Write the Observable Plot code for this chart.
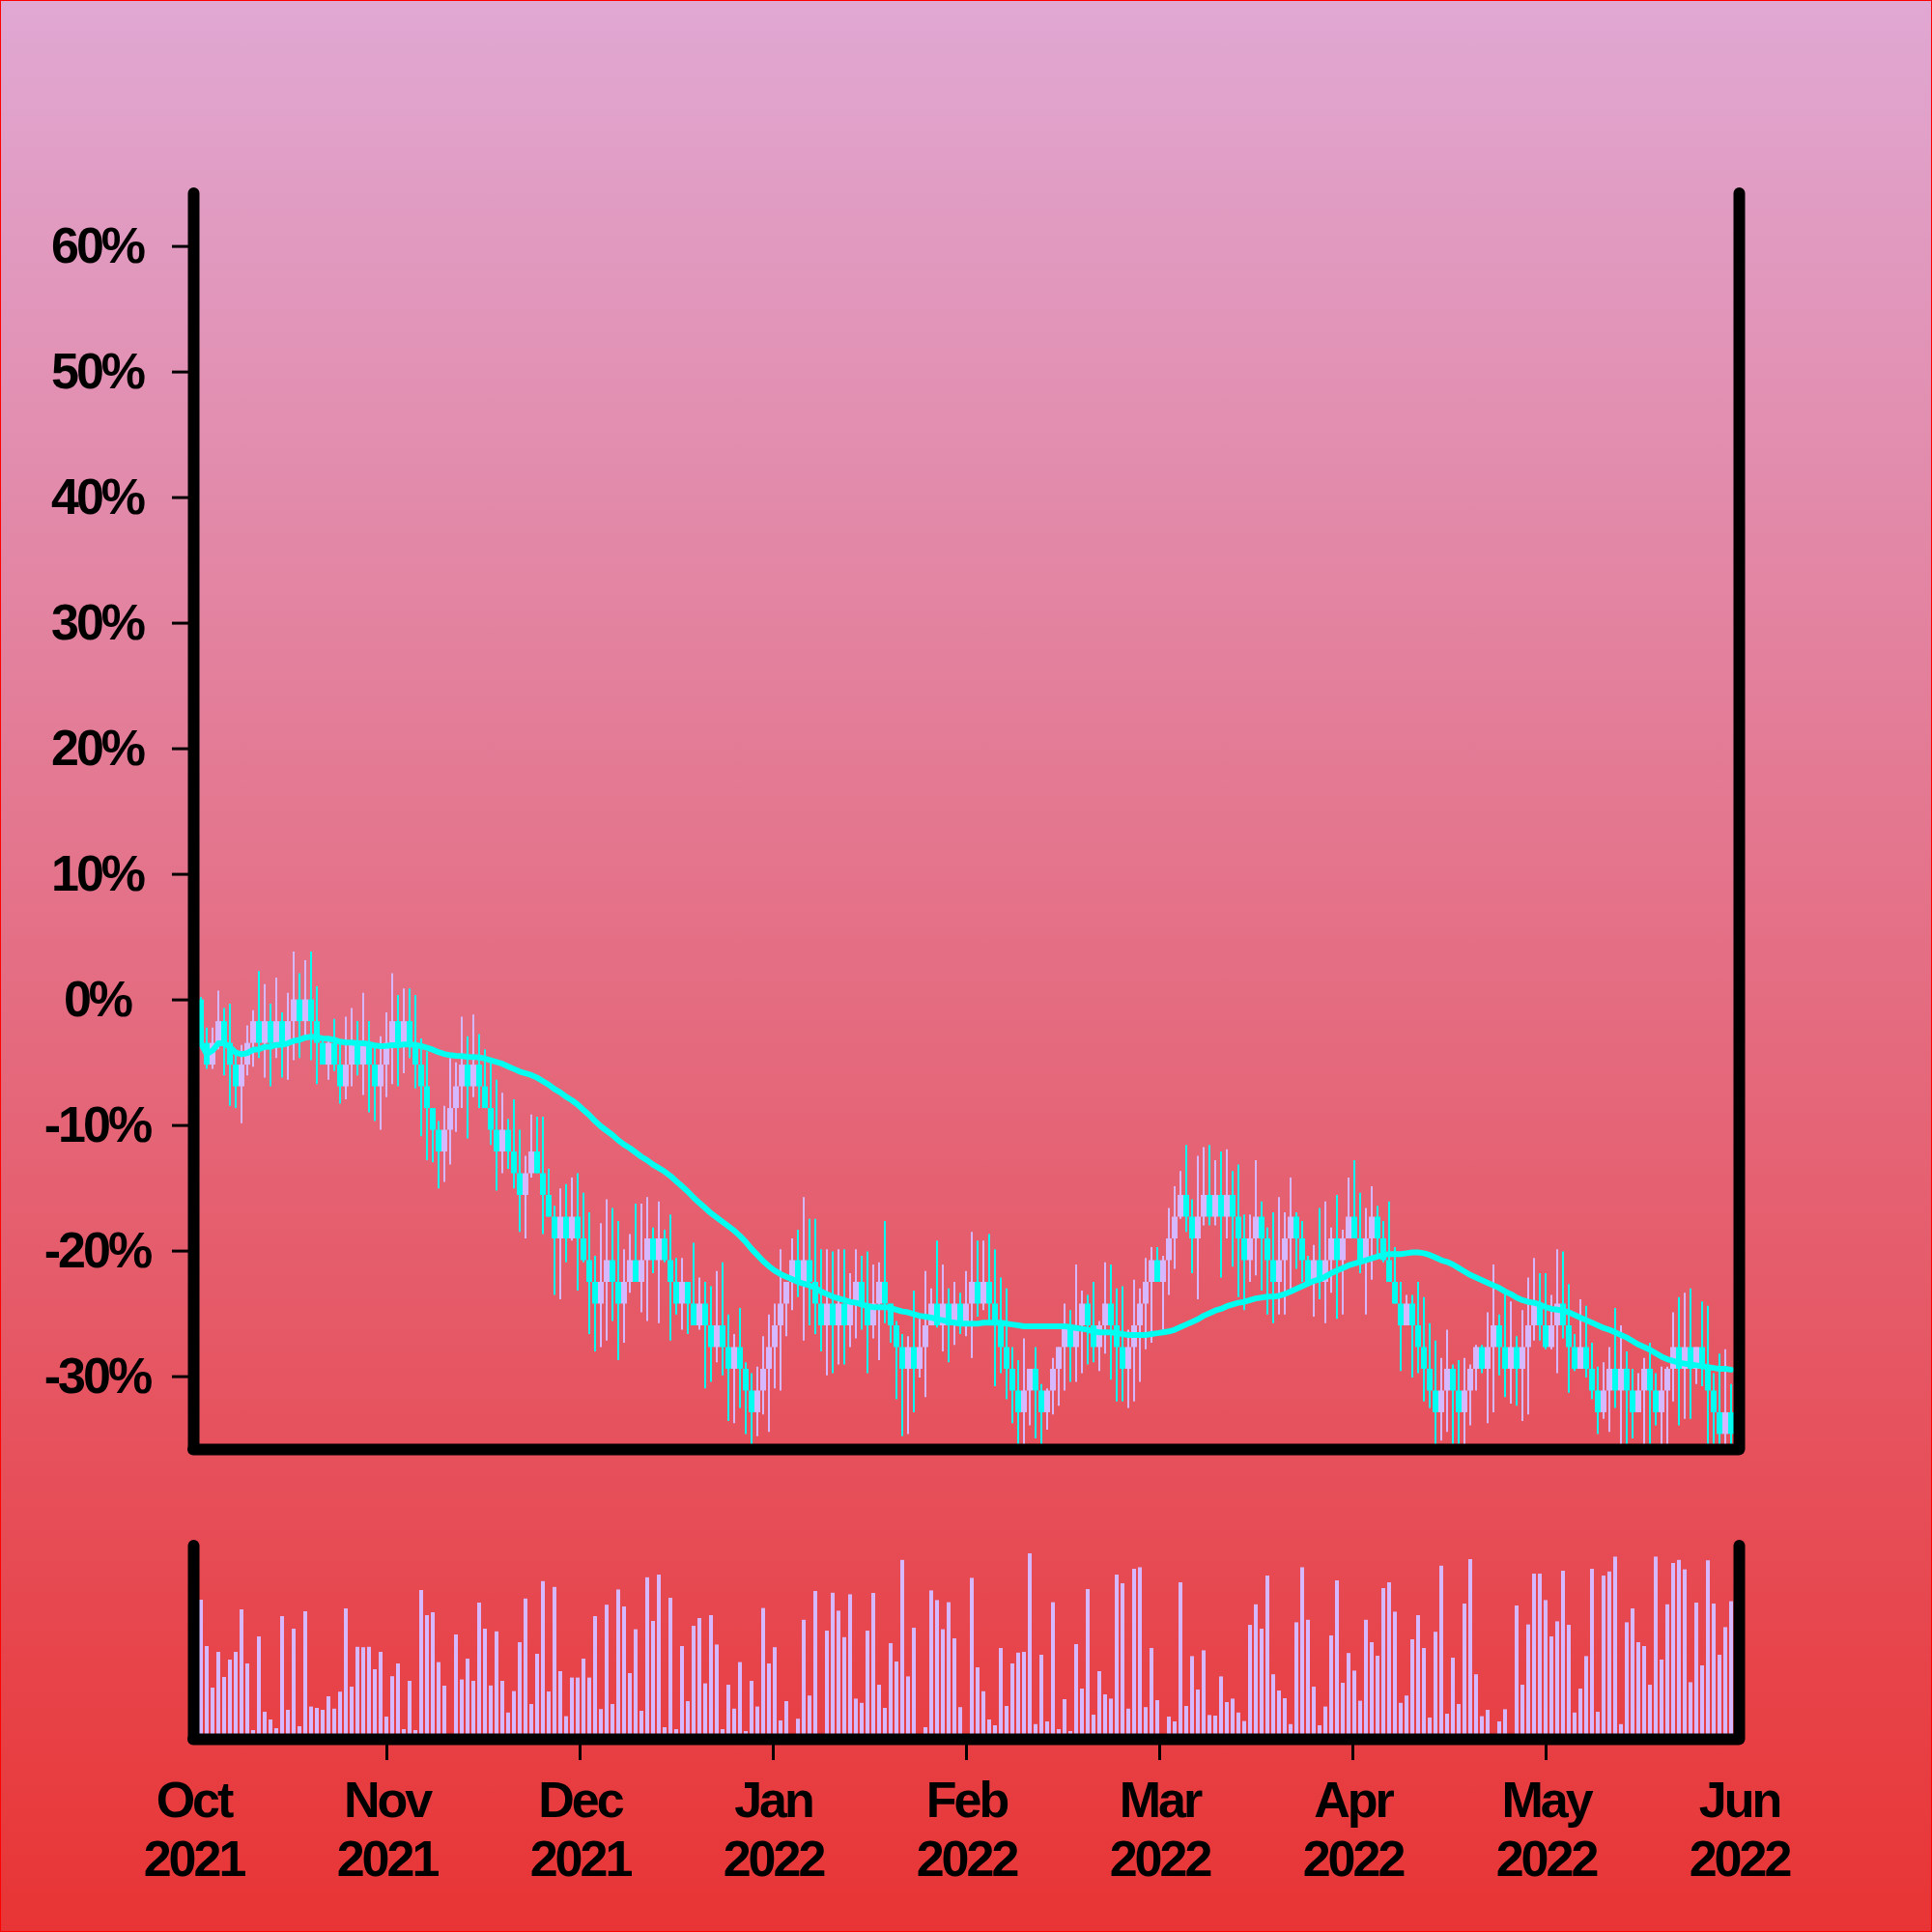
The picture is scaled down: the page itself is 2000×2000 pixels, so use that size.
<!DOCTYPE html>
<html><head><meta charset="utf-8">
<script src="https://cdn.jsdelivr.net/npm/d3@7"></script>
<script src="https://cdn.jsdelivr.net/npm/@observablehq/plot@0.6"></script>
<style>
html,body{margin:0;padding:0;}
#chart{width:2000px;height:2000px;position:relative;overflow:hidden;
  background:linear-gradient(to bottom,#e0a8d3,#e83434);box-shadow:inset 0 0 0 1px #ff0000;}
#chart svg{display:block;position:absolute;left:0;overflow:visible;background:transparent;}
</style></head><body><div id="chart"></div>
<script>
const firstOpen = 57.8;
const close = [55.8,
54.8,55.8,56.8,55.8,54.8,53.8,54.8,55.8,56.8,55.8,
56.8,55.8,56.8,55.8,56.8,57.8,56.8,57.8,56.8,55.8,
54.8,55.8,54.8,53.8,54.8,55.8,54.8,55.8,54.8,53.8,
54.8,55.8,56.8,55.8,56.8,55.8,54.8,53.8,52.8,51.8,
50.8,51.8,52.8,53.8,54.8,53.8,54.8,53.8,52.8,51.8,
50.8,51.8,50.8,49.8,48.8,49.8,50.8,49.8,48.8,47.8,
46.8,47.8,46.8,47.8,46.8,45.8,44.8,43.8,44.8,45.8,
44.8,43.8,44.8,45.8,44.8,45.8,46.8,45.8,46.8,45.8,
44.8,43.8,44.8,43.8,42.8,43.8,42.8,41.8,42.8,41.8,
40.8,41.8,40.8,39.8,38.8,39.8,40.8,41.8,42.8,43.8,
44.8,45.8,44.8,45.8,44.8,43.8,42.8,43.8,42.8,43.8,
42.8,43.8,44.8,43.8,42.8,43.8,44.8,43.8,42.8,41.8,
40.8,41.8,40.8,41.8,42.8,43.8,42.8,43.8,42.8,43.8,
42.8,43.8,44.8,43.8,44.8,43.8,42.8,41.8,40.8,39.8,
38.8,39.8,40.8,39.8,38.8,39.8,40.8,41.8,42.8,41.8,
42.8,43.8,42.8,41.8,42.8,43.8,42.8,41.8,40.8,41.8,
42.8,43.8,44.8,45.8,44.8,45.8,46.8,47.8,48.8,47.8,
46.8,47.8,48.8,47.8,48.8,47.8,48.8,47.8,46.8,45.8,
46.8,47.8,46.8,45.8,44.8,45.8,46.8,47.8,46.8,45.8,
44.8,45.8,44.8,45.8,46.8,45.8,46.8,47.8,46.8,45.8,
46.8,47.8,46.8,45.8,44.8,43.8,42.8,43.8,42.8,41.8,
40.8,39.8,38.8,39.8,40.8,39.8,38.8,39.8,40.8,41.8,
40.8,41.8,42.8,41.8,40.8,41.8,40.8,41.8,42.8,43.8,
42.8,41.8,42.8,43.8,42.8,41.8,40.8,41.8,40.8,39.8,
38.8,39.8,40.8,39.8,40.8,39.8,38.8,39.8,40.8,39.8,
38.8,39.8,40.8,41.8,40.8,41.8,40.8,41.8,40.8,39.8,
38.8,37.8,38.8,37.8];
const high = [
57.9,56.5,56.5,58.2,57.4,57.6,55.5,55.7,56.6,57.3,
59.1,58.5,57.6,58.8,57.2,58.1,60.0,59.0,59.6,60.0,
58.4,56.0,55.9,56.9,55.9,57.0,57.4,56.8,58.1,56.8,
55.6,56.1,57.2,59.0,58.0,58.3,58.3,58.0,56.0,55.4,
52.6,52.2,52.9,55.1,54.9,57.0,56.1,57.1,56.2,55.5,
55.0,54.1,53.5,
52.3,53.2,51.8,50.6,52.5,52.4,52.4,50.0,48.3,49.1,
49.3,49.6,49.8,48.9,48.0,46.0,47.5,48.6,48.2,47.6,
46.3,47.0,48.4,48.4,48.7,47.3,48.5,47.2,47.9,45.9,
45.9,44.8,46.6,45.0,44.8,44.6,45.3,45.7,43.3,42.4,
43.6,41.1,40.6,40.9,42.3,43.3,43.8,46.3,44.8,46.8,
47.2,48.7,47.7,47.7,46.3,
46.3,46.2,46.3,46.3,45.2,46.3,46.0,46.2,45.6,45.7,
47.6,43.8,43.0,42.4,42.3,44.4,43.1,45.3,44.5,46.7,
45.6,44.5,44.8,44.3,45.3,47.1,46.7,46.7,47.0,46.3,
45.0,44.5,41.8,41.2,42.2,40.8,41.8,40.1,39.9,41.3,
41.6,43.8,43.5,45.6,44.4,44.2,44.8,43.0,45.7,45.6,
44.5,44.6,42.6,44.9,
44.5,45.9,46.4,46.4,46.0,48.2,49.2,49.9,51.1,48.6,
50.6,51.0,51.1,50.4,50.8,50.9,49.9,50.2,47.9,47.9,
50.4,48.5,47.3,48.0,48.7,48.0,49.6,48.0,47.6,46.0,
46.5,48.2,48.5,47.3,48.8,47.2,49.6,50.4,48.9,48.2,
49.2,48.3,47.6,48.5,46.4,44.8,44.2,44.2,44.8,44.1,
42.9,42.1,41.3,42.6,
41.0,41.2,41.3,41.0,41.9,41.9,43.4,45.6,43.3,44.4,
43.9,42.3,43.5,45.0,45.9,45.2,45.2,44.2,46.3,46.2,
44.7,42.4,44.0,43.7,42.0,40.9,41.1,41.8,43.6,42.8,
41.6,40.8,40.6,41.3,42.0,40.6,40.9,40.9,43.4,44.1,
44.3,44.5,40.8,43.9,43.7,40.6,41.5,41.7,40.1];
const low = [
55.6,54.6,54.6,55.5,54.3,52.9,52.8,52.1,54.3,54.7,
55.1,54.2,53.8,55.1,54.2,54.1,55.0,55.1,56.0,55.0,
53.9,54.8,54.1,54.5,53.0,53.2,53.8,54.3,53.4,52.6,
52.2,51.8,53.3,53.9,53.8,54.4,55.1,53.7,51.5,50.4,
50.3,49.1,49.4,50.2,51.7,52.8,51.4,53.3,52.8,52.8,
51.1,49.0,49.8,
50.0,49.1,47.1,46.8,49.6,49.8,47.0,47.9,44.2,44.0,
45.7,46.7,44.4,45.7,42.4,41.6,41.8,42.1,43.0,41.2,
42.0,44.3,44.8,43.4,43.0,45.2,42.9,45.7,42.1,43.3,
42.6,42.4,42.8,42.6,39.9,40.2,41.1,40.5,38.4,38.3,
39.0,37.8,37.0,37.7,38.7,37.9,39.9,39.8,42.3,43.5,
44.1,42.1,42.8,42.4,41.6,
40.5,40.6,41.0,41.0,41.8,42.2,42.6,40.6,42.2,41.2,
42.9,42.0,39.4,37.7,37.8,38.8,40.4,39.5,42.8,42.7,
41.6,41.1,41.9,42.4,42.3,41.3,43.2,43.5,42.9,40.0,
40.6,39.4,38.3,37.0,37.0,38.2,37.6,37.0,38.0,38.7,
39.1,39.8,40.2,40.2,40.6,41.0,41.1,40.7,41.5,40.3,
39.3,39.3,39.0,39.3,
40.2,41.7,42.0,44.8,42.6,44.2,45.4,47.7,47.1,45.2,
44.0,47.4,47.4,47.4,45.0,46.8,45.5,44.1,43.5,44.8,
45.1,44.4,43.3,42.9,43.3,43.3,44.3,45.4,44.8,44.8,
43.2,44.0,42.9,44.3,43.1,43.3,47.0,47.0,45.2,43.3,
44.9,46.0,45.7,44.8,43.8,40.7,42.8,40.4,40.6,39.3,
39.0,37.0,37.5,37.9,
37.0,37.0,37.0,38.2,39.8,40.6,38.3,38.8,40.5,39.5,
39.2,39.1,38.4,38.7,42.1,42.1,41.7,41.7,40.6,42.2,
39.7,40.7,40.9,40.4,39.4,37.8,38.5,37.9,39.0,37.0,
37.0,37.6,38.8,37.0,37.0,38.2,37.0,37.0,39.3,38.2,
38.5,38.5,40.1,40.0,37.0,37.0,37.0,37.0,37.0];
const volume = [
72,48,26.5,45,32,41,45,67,39,4.5,
53,14,10,5.5,63.5,15,57,6.5,66,16.7,
16,15,22,15.6,24.4,67.5,27,47.6,47.4,47.6,
36,45,11.5,32.4,39,5,30,4.5,77,64,
65.5,39.7,27.5,1,54,30.7,41.5,30,70.5,57,
27.6,55.6,30,
13.6,24.7,50,72.6,18,44,81.6,24.5,78.6,35,
11.7,31.7,31.7,41.5,31.7,63.5,15.4,69.4,18,77.3,
68.5,34,56.7,14.5,83.6,61,85,6,73,5,
48,19.5,58.5,62.5,28.7,64,48.8,5,28,15.6,
39.7,4,30,16.7,67.7,39,47.4,9.5,19.5,2,
10.4,61.6,22.4,76.5,2,
56,75.6,66.3,52.6,74.8,20.8,18.6,56,75.5,28,
16,49.5,40,92.6,32.3,57.5,0.5,6,76.8,71.8,
56.7,70.7,52,16.4,0.5,83.3,37,24.6,10,7,
47,17,39,44.6,45,96,7.6,43.5,9,70.7,
5,20.5,4,49,26,77.5,12.5,35,23,20.8,
85,80.5,15.6,88,
88.8,16.4,47,20,0.5,11.5,9,81,17,42.8,
25.5,45.8,12.3,12,32.3,19,20.8,13.6,9.2,59,
69.6,57,84.5,33.4,25,21,7.6,60.3,88.8,61.6,
27,7,16.7,53.5,82,29,44.4,35.3,19.7,61.6,
50,43,78,81,65.8,18.6,22.4,51.5,64,47,
11,55.4,89.6,13,
42,18,70,93,33.4,11.7,15,0.5,9,15.3,
0.5,69,28,59.2,85.5,85.5,71.8,53,60.8,87,
59,13.6,26,42.8,88,14,84.5,86.6,94.3,7.6,
60.3,67.5,50,48,28,94.3,41,69.6,91,92.6,
87.7,29.3,70.5,38,92.4,70,43.5,57.8,71.2];
const monthLabels = ["Oct\n2021","Nov\n2021","Dec\n2021","Jan\n2022","Feb\n2022","Mar\n2022","Apr\n2022","May\n2022","Jun\n2022"];
const yTicks = [-0.3,-0.2,-0.1,0,0.1,0.2,0.3,0.4,0.5,0.6];

const CYAN = "#00fff0", LAV = "#d5b8ff";
const candles = close.map((c, i) => {
  const o = i === 0 ? firstOpen : close[i - 1];
  return {i, open: o / firstOpen - 1, close: c / firstOpen - 1,
    high: Math.max(high[i], o, c) / firstOpen - 1, low: Math.min(low[i], o, c) / firstOpen - 1};
});
const vol = volume.map((v, i) => ({i, v}));

const xStart = -1.25, monthSpan = 100 / 3;
const xDomain = [xStart, xStart + 8 * monthSpan];
const monthTicks = monthLabels.map((_, k) => xStart + k * monthSpan);
const labelOf = new Map(monthTicks.map((t, k) => [t, monthLabels[k]]));
const yDomain = [-0.358, 0.642];
const font = "'Liberation Sans', Arial, Helvetica, sans-serif";
const style = {background: "transparent", overflow: "visible", fontFamily: font, fontWeight: "bold", fontSize: "52px", color: "black", letterSpacing: "-3px"};
const frameOpts = {stroke: "black", strokeWidth: 12, strokeLinecap: "round"};

const main = Plot.plot({
  width: 2000, height: 1500, marginTop: 200, marginBottom: 0, marginLeft: 200, marginRight: 200,
  style,
  x: {type: "linear", domain: xDomain, axis: null},
  y: {type: "linear", domain: yDomain, axis: null},
  marks: [
    Plot.ruleX(candles, {filter: d => d.close < d.open, x: "i", y1: "low", y2: "high", stroke: CYAN, strokeWidth: 2, clip: true}),
    Plot.ruleX(candles, {filter: d => d.close >= d.open, x: "i", y1: "low", y2: "high", stroke: LAV, strokeWidth: 2, clip: true}),
    Plot.ruleX(candles, {filter: d => d.close < d.open, x: "i", y1: "open", y2: "close", stroke: CYAN, strokeWidth: 6}),
    Plot.ruleX(candles, {filter: d => d.close >= d.open, x: "i", y1: "open", y2: "close", stroke: LAV, strokeWidth: 6}),
    Plot.lineY(candles, Plot.windowY({k: 50, anchor: "end"}, {x: "i", y: "close", stroke: CYAN, strokeWidth: 6, strokeLinejoin: "round", strokeLinecap: "round"})),
    Plot.axisY(yTicks, {anchor: "left", tickSize: 22, tickPadding: 78, textAnchor: "middle", strokeWidth: 3, tickFormat: d => `${Math.round(d * 100)}%`, fontSize: 52, fontWeight: "bold", label: null}),
    Plot.ruleX([xDomain[0], xDomain[1]], frameOpts),
    Plot.ruleY([yDomain[0]], frameOpts)
  ]
});
main.style.top = "0px";

const volPlot = Plot.plot({
  width: 2000, height: 500, marginTop: 100, marginBottom: 200, marginLeft: 200, marginRight: 200,
  style,
  x: {type: "linear", domain: xDomain, axis: null},
  y: {type: "linear", domain: [0, 100], axis: null},
  marks: [
    Plot.ruleX(vol, {x: "i", y1: 0, y2: "v", stroke: LAV, strokeWidth: 4}),
    Plot.axisX(monthTicks.slice(1, -1), {anchor: "bottom", tickSize: 22, strokeWidth: 3, tickFormat: () => "", label: null}),
    Plot.axisX(monthTicks, {anchor: "bottom", tickSize: 0, tickPadding: 37, tickFormat: t => labelOf.get(t), fontSize: 52, fontWeight: "bold", lineHeight: 1.18, label: null}),
    Plot.ruleX([xDomain[0], xDomain[1]], frameOpts),
    Plot.ruleY([0], frameOpts)
  ]
});
volPlot.style.top = "1500px";

const chart = document.getElementById("chart");
chart.appendChild(main);
chart.appendChild(volPlot);
</script></body></html>
